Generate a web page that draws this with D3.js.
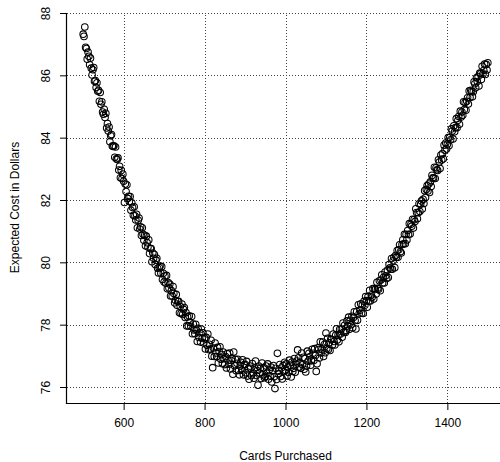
<!DOCTYPE html>
<html>
<head>
<meta charset="utf-8">
<script src="https://cdn.jsdelivr.net/npm/d3@7/dist/d3.min.js"></script>
<style>
  html, body { margin: 0; padding: 0; background: #fff; }
  svg { display: block; }
  text { font-family: "Liberation Sans", Arial, Helvetica, sans-serif; fill: #000; }
</style>
</head>
<body>
<svg id="chart" width="500" height="462"></svg>
<script>
// ---- Data ----
const cardsStart = 500, cardsEnd = 1500, cardsStep = 2;
const cardsPurchased = d3.range(cardsStart, cardsEnd + 1, cardsStep);
const expectedCost = [
  // 500-548
  87.32, 87.25, 87.55, 86.90, 86.86, 86.52, 86.75, 86.61, 86.34, 86.55, 86.23, 86.01, 86.18, 86.25, 85.81, 85.83, 85.61, 85.76, 85.49, 85.52, 85.17, 85.45, 85.07, 85.15, 84.82,
  // 550-598
  84.75, 84.91, 84.65, 84.78, 84.31, 84.45, 84.21, 84.34, 83.87, 84.06, 84.10, 83.73, 83.72, 83.74, 83.37, 83.70, 83.32, 83.30, 83.35, 82.96, 83.08, 82.71, 82.95, 82.69, 82.83,
  // 600-648
  82.60, 81.92, 82.51, 82.27, 82.49, 82.05, 82.12, 81.95, 82.11, 81.67, 81.91, 81.76, 81.51, 81.78, 81.49, 81.36, 81.54, 81.11, 81.35, 81.42, 81.07, 81.14, 80.86, 81.11, 80.90,
  // 650-698
  80.71, 80.87, 80.53, 80.84, 80.63, 80.49, 80.72, 80.28, 80.44, 80.44, 80.02, 80.30, 80.13, 80.25, 79.93, 80.07, 80.13, 79.81, 79.66, 79.83, 79.88, 79.65, 79.86, 79.45, 79.65,
  // 700-748
  79.37, 79.56, 79.33, 79.58, 79.15, 79.35, 79.18, 79.30, 78.92, 79.09, 78.92, 79.22, 79.00, 78.70, 78.78, 78.97, 78.62, 78.74, 78.75, 78.38, 78.58, 78.36, 78.66, 78.33, 78.49,
  // 750-798
  78.55, 78.23, 78.39, 77.96, 78.25, 77.96, 78.28, 78.07, 77.95, 78.26, 77.71, 78.02, 77.83, 77.71, 78.01, 77.83, 77.46, 77.88, 77.59, 77.74, 77.44, 77.86, 77.56, 77.74, 77.41,
  // 800-848
  77.57, 77.22, 77.59, 77.34, 77.70, 77.20, 77.37, 77.22, 77.50, 76.99, 76.62, 77.25, 76.98, 77.41, 77.09, 76.98, 77.27, 76.77, 77.14, 77.29, 76.89, 77.04, 76.75, 77.12, 76.91,
  // 850-898
  76.72, 76.98, 76.61, 77.07, 76.85, 76.73, 77.09, 76.58, 76.85, 76.92, 76.41, 77.12, 76.68, 76.89, 76.52, 76.76, 76.89, 76.53, 76.39, 76.67, 76.79, 76.54, 76.87, 76.39, 76.71,
  // 900-948
  76.73, 76.46, 76.82, 76.35, 76.59, 76.25, 76.67, 76.60, 76.37, 76.75, 76.45, 76.28, 76.61, 76.83, 76.37, 76.53, 76.06, 76.67, 76.45, 76.61, 76.27, 76.77, 76.39, 76.62, 76.30,
  // 950-998
  76.34, 76.67, 76.44, 76.74, 76.25, 76.55, 76.35, 76.64, 76.16, 76.52, 76.69, 76.33, 75.95, 76.60, 76.24, 77.08, 76.42, 76.51, 76.72, 76.34, 76.61, 76.26, 76.69, 76.49, 76.79,
  // 1000-1048
  76.54, 76.74, 76.35, 76.63, 76.47, 76.86, 76.70, 76.32, 76.80, 76.50, 76.60, 76.91, 76.47, 76.73, 76.83, 77.19, 76.94, 76.64, 76.78, 76.60, 77.09, 76.71, 76.95, 76.57, 76.91,
  // 1050-1098
  76.48, 76.67, 77.15, 76.83, 77.08, 76.97, 76.70, 76.84, 77.21, 77.08, 76.85, 77.23, 77.01, 76.50, 76.75, 77.26, 77.20, 76.93, 77.45, 77.09, 77.21, 77.44, 76.98, 77.36, 77.10,
  // 1100-1148
  77.73, 77.23, 77.56, 77.20, 77.42, 77.17, 77.54, 77.52, 77.35, 77.70, 77.46, 77.35, 77.66, 77.87, 77.51, 77.67, 77.45, 77.85, 77.70, 77.86, 77.60, 78.05, 77.76, 77.98, 77.75,
  // 1150-1198
  77.81, 78.12, 77.96, 78.24, 77.85, 78.14, 78.00, 78.27, 77.90, 78.23, 78.41, 78.13, 77.86, 78.42, 78.14, 78.64, 78.35, 78.46, 78.67, 78.37, 78.63, 78.36, 78.75, 78.62, 78.90,
  // 1200-1248
  78.77, 78.56, 78.90, 78.76, 79.10, 78.76, 78.95, 78.88, 79.16, 78.82, 79.16, 79.13, 78.98, 79.36, 79.17, 79.14, 79.41, 79.09, 79.43, 79.60, 79.34, 79.51, 79.34, 79.69, 79.57,
  // 1250-1298
  79.48, 79.75, 79.51, 79.93, 79.82, 79.78, 80.12, 79.78, 80.05, 80.16, 79.83, 80.22, 80.16, 80.38, 80.16, 80.40, 80.56, 80.34, 80.30, 80.57, 80.72, 80.59, 80.90, 80.60, 80.90,
  // 1300-1348
  80.72, 81.02, 80.89, 81.24, 80.91, 81.22, 81.16, 81.38, 81.10, 81.37, 81.31, 81.72, 81.60, 81.40, 81.59, 81.88, 81.63, 81.86, 81.97, 81.71, 82.02, 81.89, 82.30, 82.08, 82.34,
  // 1350-1398
  82.46, 82.29, 82.51, 82.24, 82.58, 82.43, 82.79, 82.71, 82.70, 83.05, 82.69, 83.03, 82.97, 82.95, 83.29, 83.22, 83.01, 83.44, 83.28, 83.49, 83.32, 83.76, 83.60, 83.83, 83.64,
  // 1400-1448
  83.79, 84.00, 83.74, 84.01, 83.93, 84.28, 84.21, 83.96, 84.38, 84.19, 84.32, 84.61, 84.32, 84.56, 84.68, 84.43, 84.85, 84.66, 84.82, 84.72, 85.15, 84.90, 85.13, 84.88, 85.17,
  // 1450-1500
  85.28, 85.08, 85.50, 85.29, 85.52, 85.48, 85.31, 85.47, 85.79, 85.73, 85.60, 85.92, 85.80, 85.96, 85.66, 86.07, 86.05, 85.87, 86.29, 86.04, 86.16, 86.36, 86.03, 86.35, 86.17, 86.40
];
const xTicks = [600, 800, 1000, 1200, 1400];
const yTicks = [76, 78, 80, 82, 84, 86, 88];
const xTitle = "Cards Purchased";
const yTitle = "Expected Cost in Dollars";

const points = cardsPurchased.map((c, i) => ({ x: c, y: expectedCost[i] }));

// ---- Layout ----
const plotLeft = 67, plotRight = 504, plotTop = 12, plotBottom = 403;
const svg = d3.select("#chart");
svg.append("rect").attr("width", 500).attr("height", 462).attr("fill", "#fff");

const x = d3.scaleLinear().domain([460, 1540]).range([plotLeft, plotRight]);
const y = d3.scaleLinear().domain([76, 88]).range([387, 13]);

// ---- Grid (dotted) ----
const grid = svg.append("g").attr("stroke", "#444").attr("stroke-width", 1)
  .attr("stroke-dasharray", "1,2").attr("shape-rendering", "crispEdges");
grid.selectAll("line.v").data(xTicks).join("line")
  .attr("x1", d => Math.round(x(d)) + 0.5).attr("x2", d => Math.round(x(d)) + 0.5)
  .attr("y1", plotBottom).attr("y2", y(88));
grid.selectAll("line.h").data(yTicks).join("line")
  .attr("y1", d => Math.round(y(d)) + 0.5).attr("y2", d => Math.round(y(d)) + 0.5)
  .attr("x1", plotLeft).attr("x2", plotRight);

// ---- Points ----
svg.append("g").selectAll("circle").data(points).join("circle")
  .attr("cx", d => x(d.x)).attr("cy", d => y(d.y)).attr("r", 3.3)
  .attr("fill", "none").attr("stroke", "#000").attr("stroke-width", 1.05);

// ---- Axes ----
const xAxis = d3.axisBottom(x).tickValues(xTicks).tickSize(7).tickPadding(8).tickFormat(d3.format("d"));
const gx = svg.append("g").attr("transform", `translate(0,${plotBottom})`).call(xAxis);
gx.select(".domain").remove();
gx.selectAll("text").attr("font-size", 12).attr("font-family", "Liberation Sans, Arial, sans-serif");
gx.selectAll("line").attr("stroke", "#000");
svg.append("line").attr("x1", plotLeft).attr("x2", plotRight)
  .attr("y1", plotBottom + 0.5).attr("y2", plotBottom + 0.5).attr("stroke", "#000").attr("stroke-width", 1.2);

const yAxis = d3.axisLeft(y).tickValues(yTicks).tickSize(7).tickFormat(d3.format("d"));
const gy = svg.append("g").attr("transform", `translate(${plotLeft},0)`).call(yAxis);
gy.select(".domain").remove();
gy.selectAll("line").attr("stroke", "#000");
gy.selectAll("text")
  .attr("font-size", 12).attr("font-family", "Liberation Sans, Arial, sans-serif")
  .attr("text-anchor", "middle").attr("dy", null).attr("x", null)
  .attr("transform", "translate(-17,0) rotate(-90)");
svg.append("line").attr("x1", plotLeft - 0.5).attr("x2", plotLeft - 0.5)
  .attr("y1", y(88)).attr("y2", plotBottom + 1).attr("stroke", "#000").attr("stroke-width", 1.2);

// ---- Titles ----
svg.append("text").attr("x", (plotLeft + plotRight) / 2).attr("y", 460)
  .attr("text-anchor", "middle").attr("font-size", 12).text(xTitle);
svg.append("text").attr("transform", `translate(19,${(plotTop + plotBottom) / 2}) rotate(-90)`)
  .attr("text-anchor", "middle").attr("font-size", 12).text(yTitle);
</script>
</body>
</html>
